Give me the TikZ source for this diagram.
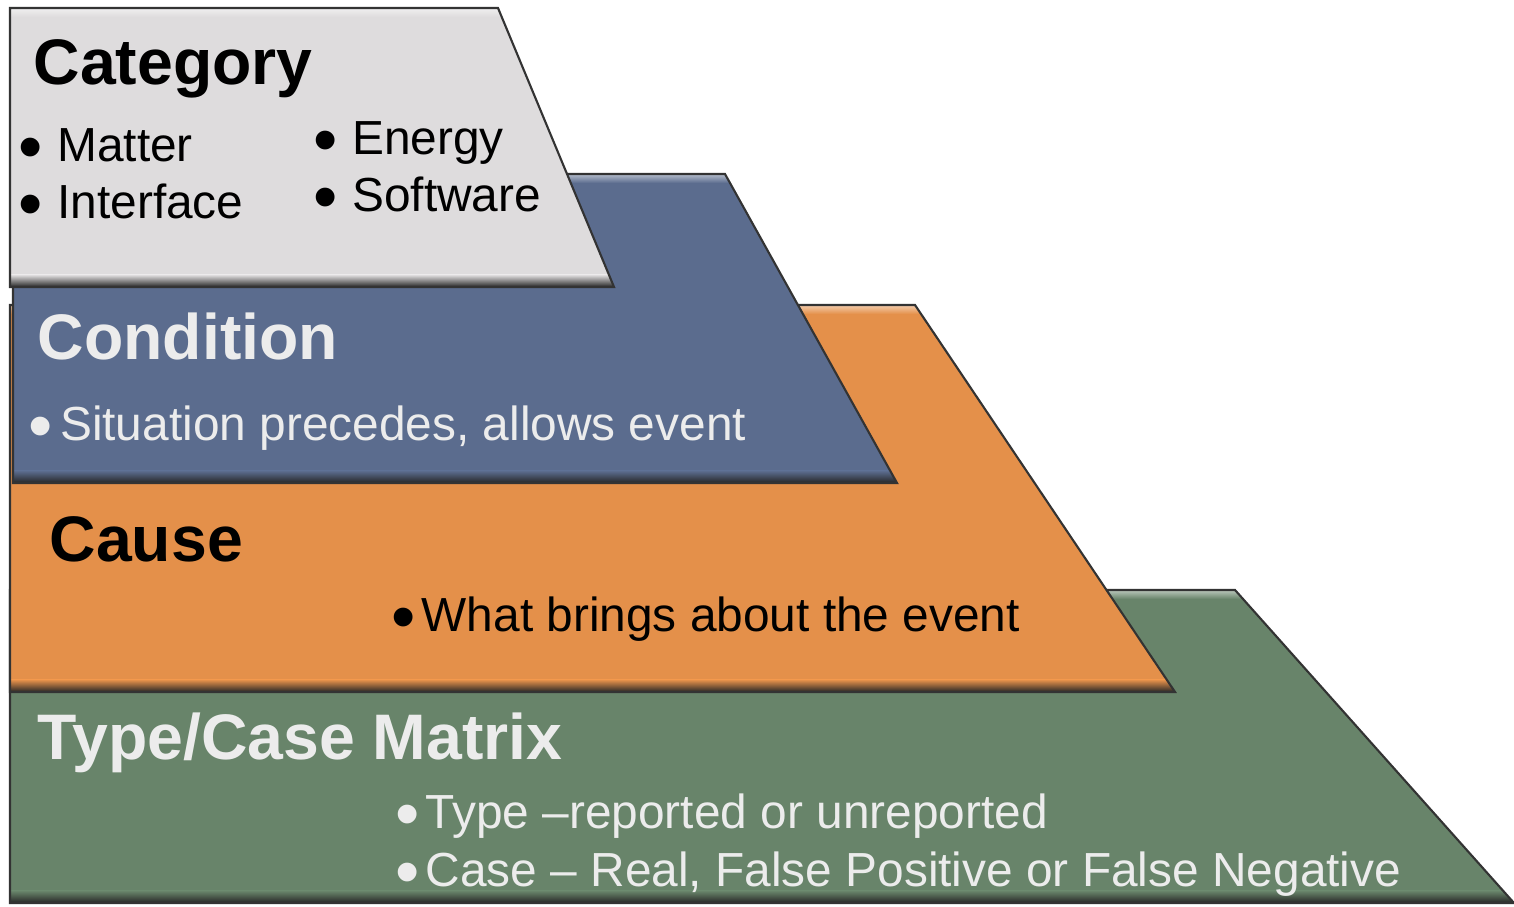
\documentclass[tikz,border=0pt]{standalone}
\usepackage{fontspec}
\setmainfont{Liberation Sans}

\definecolor{catgray}{RGB}{222,220,221}
\definecolor{condblue}{RGB}{91,108,142}
\definecolor{causeorange}{RGB}{228,144,74}
\definecolor{matgreen}{RGB}{104,132,106}
\definecolor{paletext}{RGB}{236,236,236}

\tikzset{
  layer/.style={draw=black!80, line width=0.6pt},
  title/.style={anchor=base west, inner sep=0pt, font=\fontsize{18.3}{20}\selectfont\bfseries},
  point/.style={anchor=base west, inner sep=0pt, font=\fontsize{13.6}{16}\selectfont},
}

% big round bullet
\newcommand{\bigdot}{\smash{\raisebox{-0.17em}{\scalebox{1.45}{•}}}}

% colour, left x, top y, top right x, bottom right x, bottom y
\newcommand{\layer}[6]{%
  \begin{scope}
    \clip (#2,#3) -- (#4,#3) -- (#5,#6) -- (#2,#6) -- cycle;
    \fill[#1] (#2,#3) rectangle (#5,#6);
    \shade[top color=#1, bottom color=black!85] (#2,#6-12) rectangle (#5,#6);
    \shade[top color=white!55!#1, bottom color=#1] (#2,#3) rectangle (#5,#3+9);
  \end{scope}
  \draw[layer] (#2,#3) -- (#4,#3) -- (#5,#6) -- (#2,#6) -- cycle;
}

\begin{document}
\begin{tikzpicture}[x=0.01cm, y=-0.01cm]
\useasboundingbox (0,0) rectangle (1514,907);

\layer{matgreen}{10}{590}{1235}{1514}{903}
\layer{causeorange}{10}{305}{915}{1175}{692}
\layer{condblue}{13}{174}{725}{897}{483}
\layer{catgray}{10}{8}{498}{614}{287}

\node[title] (category) at (33,85) {Category};
\node[point] (matter) at (18,162) {\bigdot\hspace{0.3em}Matter};
\node[point] (interface) at (18,219) {\bigdot\hspace{0.3em}Interface};
\node[point] (energy) at (313,155) {\bigdot\hspace{0.3em}Energy};
\node[point] (software) at (313,212) {\bigdot\hspace{0.3em}Software};

\node[title, text=paletext] (condition) at (37,360) {Condition};
\node[point, text=paletext] (situation) at (28,441) {\bigdot\hspace{0.15em}Situation precedes, allows event};

\node[title] (cause) at (49,562) {Cause};
\node[point] (brings) at (391,632) {\bigdot\hspace{0.12em}What brings about the event};

\node[title, text=paletext] (matrix) at (37,760) {Type/Case Matrix};
\node[point, text=paletext] (typeline) at (395,829) {\bigdot\hspace{0.12em}Type –reported or unreported};
\node[point, text=paletext] (caseline) at (395,887) {\bigdot\hspace{0.12em}Case – Real, False Positive or False Negative};
\end{tikzpicture}
\end{document}
